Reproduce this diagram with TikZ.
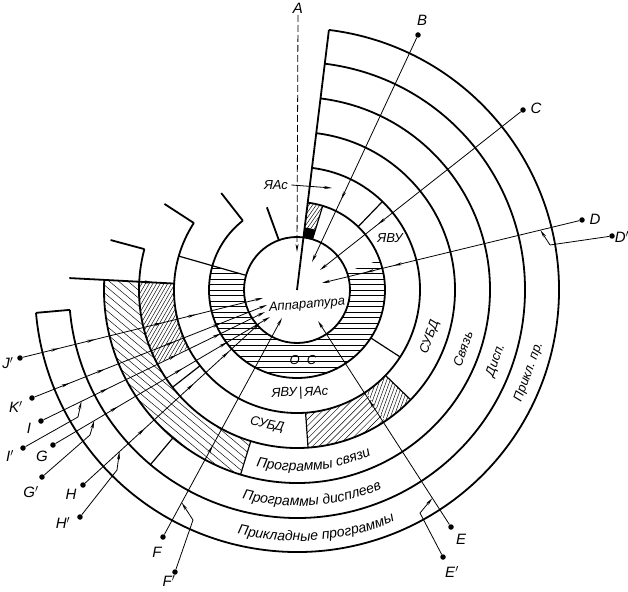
\documentclass[tikz,border=0pt]{standalone}
\usepackage{fontspec}
\setmainfont{Liberation Sans}
\usetikzlibrary{
    arrows.meta,
    calc,
    decorations.markings,
    decorations.text
}

\newcommand\lblfont{\itshape\fontsize{13}{15}\selectfont}
\newcommand\bigfont{\itshape\fontsize{14}{16}\selectfont}
\newcommand\ptfont{\itshape\fontsize{15}{17}\selectfont}
% hatched piece of a ring: r_in, r_out, from angle, to angle, line angle, gap
\newcommand\hatchsector[6]{%
  \begin{scope}
    \clip (#3:#1) arc[start angle=#3,end angle=#4,radius=#1]
      -- (#4:#2) arc[start angle=#4,end angle=#3,radius=#2] -- cycle;
    \foreach \k in {-80,...,80}
      \draw[hatch,shift={(#5+90:{\k*#6})}] (#5:-300) -- (#5:300);
  \end{scope}}

\begin{document}
\begin{tikzpicture}[x=1pt,y=1pt,
    >={Stealth[length=8pt,width=3pt]},
    ring/.style={line width=1.8pt},
    divider/.style={line width=1.2pt},
    access/.style={line width=0.8pt},
    hatch/.style={line width=0.45pt},
    dot/.style={circle,fill,inner sep=0pt,minimum size=5.5pt},
    tipat/.style={postaction={decorate,decoration={markings,
        mark=at position #1 with {\arrow{>}}}}},
    every node/.style={font=\lblfont}
]
\useasboundingbox (-297,-301) rectangle (331,290);

% Hatching
\hatchsector{53}{88}{-196}{20}{0}{5.5}
\hatchsector{63}{88}{73}{83}{55}{3}
\fill (73:53) arc[start angle=73,end angle=83,radius=53]
    -- (83:63) arc[start angle=83,end angle=73,radius=63] -- cycle;
\hatchsector{123}{158}{177}{208}{60}{3.2}
\hatchsector{158}{193}{177}{253}{-40}{6}
\hatchsector{123}{158}{-86}{-56}{45}{4.5}
\hatchsector{123}{158}{-56}{-44}{70}{3.2}

% Rings
\draw[ring] (0,0) circle[radius=53];
\foreach \r/\e in {88/-232,123/-213,158/-195,193/-183,228/-175,262/-175}
    \draw[ring] (83:\r) arc[start angle=83,end angle=\e,radius=\r];

% Ends of the rings
\foreach \a/\ri/\ro in {83/0/262,110/53/88,128/88/123,147/123/158,
                        165/158/193,185/228/262}
    \draw[ring] (\a:\ri) -- (\a:\ro);
\draw[ring,tipat=0.8] (177:228) -- (177:123);

% Dividers
\foreach \a/\ri/\ro in {164/53/123,73/53/88,46/88/123,-33/88/123,
                        -44/123/158,-86/123/158,218/123/158,
                        253/158/193,230/193/228}
    \draw[divider] (\a:\ri) -- (\a:\ro);

% Ring labels
\node[rotate=5] (hw) at (10,-15) {Аппаратура};
\node (os) at (6,-70) {О~~С};
\node (yvu) at (93,52) {ЯВУ};
\node[rotate=2] (yvuyas) at (3,-103) {ЯВУ\,|\,ЯАс};
\node[rotate=-12] (dbms) at (-30,-135) {СУБД};
\node[rotate=70] (dbmsr) at (-19.5:141) {СУБД};
\node[rotate=70] (comr) at (-19.5:176) {Связь};
\node[rotate=70] (dispr) at (-19.5:211) {Дисп.};
\node[rotate=70] (appr) at (-19.5:246) {Прикл.\ пр.};
\path[decorate,decoration={text along path,text align=center,
    text={|\bigfont|Программы связи}}]
    (-120:181) arc[start angle=-120,end angle=-48.8,radius=181];
\path[decorate,decoration={text along path,text align=center,
    text={|\bigfont|Программы дисплеев}}]
    (-121:216) arc[start angle=-121,end angle=-50.6,radius=216];
\path[decorate,decoration={text along path,text align=center,
    text={|\bigfont|Прикладные программы}}]
    (-125:251) arc[start angle=-125,end angle=-45.8,radius=251];

% A and the assembler arrow
\node[font=\ptfont] (Alab) at (1,282) {A};
\coordinate (A) at (1,275);
\coordinate (Aend) at (0,38);
\draw[access,dashed,dash pattern=on 7pt off 3pt,->] (A) -- (Aend);
\node (yas) at (-21,105) {ЯАс};
\coordinate (yasend) at (35,102);
\draw[access,->] (yas.east) -- (yasend);

% Entry points
\foreach \n/\x/\y/\lx/\ly/\t in {
    B/121/255/125/270/B, C/226/180/239/182/C, D/285/70/298/71/D,
    Dp/315/54/325/53/D$'$, E/154/-237/164/-249/E, Ep/146/-267/155/-282/E$'$,
    F/-134/-247/-140/-262/F, Fp/-122/-282/-128/-291/F$'$,
    G/-244/-155/-255/-166/G, Gp/-255/-187/-266/-202/G$'$,
    H/-214/-195/-226/-204/H, Hp/-217/-227/-234/-233/H$'$,
    I/-256/-131/-268/-138/I, Ip/-274/-158/-287/-166/I$'$,
    Jp/-277/-68/-289/-73/J$'$, Kp/-265/-108/-281/-117/K$'$}
{
    \node[dot] (\n) at (\x,\y) {};
    \node[font=\ptfont] (\n-lab) at (\lx,\ly) {\t};
}

\foreach \n/\ex/\ey in {B/15/28, C/23/20, D/25/7, E/21/-31, F/-15/-28,
                        Jp/-34/-8, Kp/-30/-15, I/-32/-22, G/-27/-27, H/-37/-33}
    \coordinate (\n-end) at (\ex,\ey);

% Access paths
\draw[access,->,tipat=0.72] (B) -- (B-end);
\draw[access,->,tipat=0.71] (C) -- (C-end);
\draw[access,->,tipat=0.72,tipat=0.83] (D) -- (D-end);
\draw[access,->,tipat=0.61] (E) -- (E-end);
\draw[access,->,tipat=0.41] (F) -- (F-end);
\draw[access,->,tipat=0.15,tipat=0.3,tipat=0.58,tipat=0.72] (Jp) -- (Jp-end);
\draw[access,->,tipat=0.15,tipat=0.3,tipat=0.6,tipat=0.8] (Kp) -- (Kp-end);
\draw[access,->,tipat=0.29,tipat=0.6,tipat=0.8] (I) -- (I-end);
\draw[access,->,tipat=0.29,tipat=0.59,tipat=0.8] (G) -- (G-end);
\draw[access,->,tipat=0.34,tipat=0.62,tipat=0.82] (H) -- (H-end);

% Joining paths
\foreach \p/\n/\t/\kx/\ky in {Dp/D/0.16/253/45, Ep/E/0.14/123/-223,
                              Fp/F/0.157/-104/-230, Gp/G/0.19/-207/-145,
                              Hp/H/0.206/-180/-180, Ip/I/0.18/-219/-127}
{
    \coordinate (\p-k) at (\kx,\ky);
    \draw[access] (\p) -- (\p-k);
    \draw[access,->] (\p-k) -- ($(\n)!\t!(\n-end)$);
}

\end{tikzpicture}
\end{document}
